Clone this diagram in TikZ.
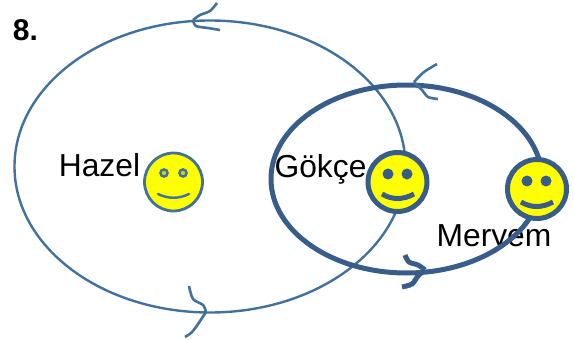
\documentclass[tikz,border=0pt]{standalone}
\usepackage{fontspec}
\setmainfont{Liberation Sans}
\definecolor{thinblue}{HTML}{41719C}
\definecolor{thickblue}{HTML}{385D8A}
\definecolor{smileyellow}{HTML}{FFFF00}
\tikzset{
  name label/.style={anchor=base, inner sep=0pt, font=\fontsize{31.8}{36}\selectfont},
  thin face/.style={circle, draw=thinblue, fill=smileyellow, line width=2.8pt, minimum size=58pt, inner sep=0pt},
  thick face/.style={circle, draw=thickblue, fill=smileyellow, line width=5pt, minimum size=59pt, inner sep=0pt},
}
\begin{document}
\begin{tikzpicture}[x=1pt,y=-1pt]
        \useasboundingbox (0,0) rectangle (574,340);

        \node[name label, font=\fontsize{30}{36}\selectfont\bfseries] (number) at (25.5,40) {8.};
        \node[name label] (hazeltext)  at (99.5,176)  {Hazel};
        \node[name label] (gokcetext)  at (320.5,177) {Gökçe};
        \node[name label] (meryemtext) at (494,246) {Meryem};

        % orbits
        \draw[thinblue, line width=2.4pt] (210,166.5) ellipse (195.5 and 146);
        \draw[thickblue, line width=5pt] (406.5,179) ellipse (135.5 and 94);

        % arrow heads
        \begin{scope}[thinblue, line width=2.6pt]
          \draw plot[smooth] coordinates {(217,3) (210,11) (200,15) (193,20)};
          \draw plot[smooth] coordinates {(193,20) (196,26) (208,28) (220,30)};
          \draw plot[smooth] coordinates {(437,64) (424,72) (414,82)};
          \draw plot[smooth] coordinates {(414,82) (422,90) (428,97) (438,99)};
          \draw plot[smooth] coordinates {(189,286) (193,299) (203,305) (206,312)};
          \draw plot[smooth] coordinates {(206,312) (196,327) (191,333) (185,337)};
        \end{scope}
        \begin{scope}[thickblue, line width=5pt]
          \draw plot[smooth] coordinates {(405,255) (409,262) (418,265) (425,270)};
          \draw plot[smooth] coordinates {(425,270) (418,276) (412,284) (402,287)};
        \end{scope}

        % faces
        \node[thin face]  (hazel)  at (173.5,182) {};
        \node[thick face] (gokce)  at (397.5,182) {};
        \node[thick face] (meryem) at (537,189)   {};

        \begin{scope}[thinblue, line width=2.4pt]
          \draw[fill=smileyellow!60!gray] (164,173) circle (3.6);
          \draw[fill=smileyellow!60!gray] (183,173) circle (3.6);
          \draw[line cap=round] (158,194) .. controls (168,199) and (179,199) .. (189,194);
        \end{scope}

        \begin{scope}[thickblue]
          \fill (388,174) circle (5.5);
          \fill (407,174) circle (5.5);
          \draw[line width=5pt] (382,194) .. controls (392,200) and (403,200) .. (414,194);
          \fill (527,181) circle (5.5);
          \fill (546,181) circle (5.5);
          \draw[line width=5pt] (521,202) .. controls (531,208) and (542,208) .. (553,202);
        \end{scope}

\end{tikzpicture}
\end{document}
